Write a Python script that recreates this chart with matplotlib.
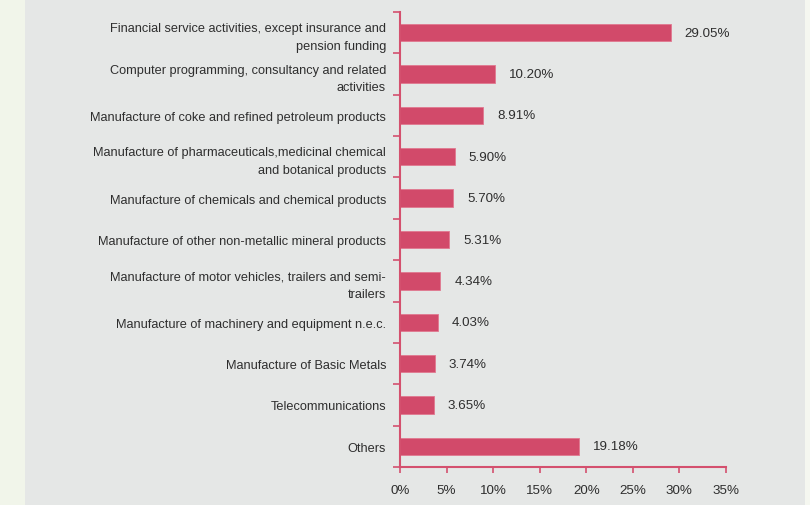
import matplotlib
matplotlib.use("Agg")
import matplotlib.pyplot as plt
from matplotlib.patches import Rectangle
from matplotlib.ticker import FixedLocator, FuncFormatter
import numpy as np

categories = [
    "Financial service activities, except insurance and\npension funding",
    "Computer programming, consultancy and related\nactivities",
    "Manufacture of coke and refined petroleum products",
    "Manufacture of pharmaceuticals,medicinal chemical\nand botanical products",
    "Manufacture of chemicals and chemical products",
    "Manufacture of other non-metallic mineral products",
    "Manufacture of motor vehicles, trailers and semi-\ntrailers",
    "Manufacture of machinery and equipment n.e.c.",
    "Manufacture of Basic Metals",
    "Telecommunications",
    "Others",
]
shares = [29.05, 10.20, 8.91, 5.90, 5.70, 5.31, 4.34, 4.03, 3.74, 3.65, 19.18]
x_ticks = [0, 5, 10, 15, 20, 25, 30, 35]

plt.rcParams["font.family"] = ["Liberation Sans", "DejaVu Sans"]

bar_color = "#d24a6a"
axis_color = "#d4506e"
text_color = "#2e2e2e"
panel_color = "#e5e7e6"
fs = 9.2

fig = plt.figure(figsize=(8.10, 5.06), dpi=100)
fig.patch.set_facecolor(panel_color)

# pale side strips framing the panel
fig.patches.append(Rectangle((0, 0), 25 / 810, 1, transform=fig.transFigure,
                             facecolor="#f1f5ea", edgecolor="none", zorder=0))
fig.patches.append(Rectangle((805 / 810, 0), 5 / 810, 1, transform=fig.transFigure,
                             facecolor="#f5f7f0", edgecolor="none", zorder=0))

ax = fig.add_axes([400 / 810, 1 - 468 / 506, 326 / 810, 455 / 506])
ax.set_facecolor("none")

n = len(categories)
y = np.arange(n)
ax.barh(y, shares, height=0.42, color=bar_color, edgecolor="#e07890", linewidth=0.6)

for yi, v in zip(y, shares):
    ax.annotate(f"{v:.2f}%", xy=(v, yi), xytext=(10, 0), textcoords="offset points",
                va="center", ha="left", fontsize=9.6, color=text_color)

ax.set_xlim(0, 35)
ax.set_ylim(n - 0.5, -0.5)

ax.xaxis.set_major_locator(FixedLocator(x_ticks))
ax.xaxis.set_major_formatter(FuncFormatter(lambda v, p: f"{v:.0f}%"))

# category labels centred on bars, ticks on the boundaries between them
ax.set_yticks(y)
ax.set_yticklabels(categories, ha="right", multialignment="right",
                   fontsize=fs, color=text_color, linespacing=1.6)
ax.set_yticks(np.arange(-0.5, n, 1), minor=True)
ax.tick_params(axis="y", which="major", length=0, pad=10)
ax.tick_params(axis="y", which="minor", length=5, width=1.2, color=axis_color)
ax.tick_params(axis="x", which="major", length=4, width=1.2, color=axis_color,
               labelsize=9.6, labelcolor=text_color, pad=8)

for side in ("top", "right"):
    ax.spines[side].set_visible(False)
for side in ("left", "bottom"):
    ax.spines[side].set_color(axis_color)
    ax.spines[side].set_linewidth(1.5)

fig.savefig("out.png", dpi=100, facecolor=fig.get_facecolor())
